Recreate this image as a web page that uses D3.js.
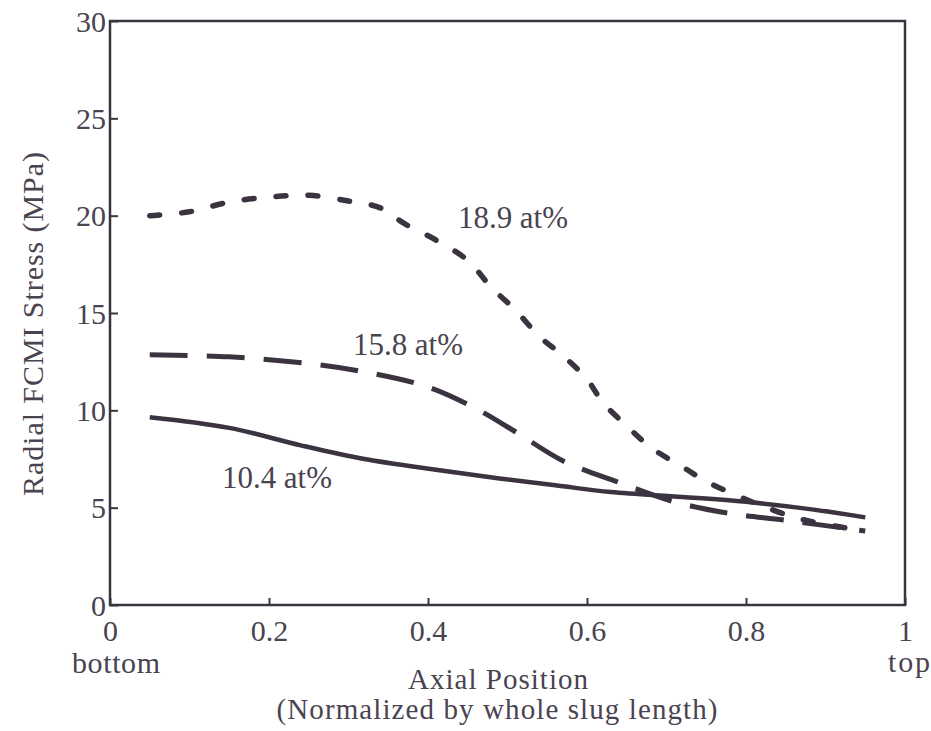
<!DOCTYPE html>
<html>
<head>
<meta charset="utf-8">
<script src="https://cdn.jsdelivr.net/npm/d3@7"></script>
<style>
  html, body { margin: 0; padding: 0; background: #fff; }
  svg text { font-family: "Liberation Serif", "DejaVu Serif", serif; fill: #4a4350; }
</style>
</head>
<body>
<svg id="chart" width="931" height="731"></svg>
<script>
// Radial FCMI stress along the slug for three Pu contents
const xTicks = [0, 0.2, 0.4, 0.6, 0.8, 1];
const xTickLabels = ["0", "0.2", "0.4", "0.6", "0.8", "1"];
const yTicks = [0, 5, 10, 15, 20, 25, 30];

const pos189 = [0.05, 0.10, 0.15, 0.20, 0.25, 0.30, 0.34, 0.37, 0.41, 0.45, 0.48, 0.51, 0.54, 0.57, 0.60, 0.62, 0.65, 0.68, 0.72, 0.75, 0.79, 0.82, 0.87, 0.95];
const stress189 = [20.0, 20.2, 20.7, 20.95, 21.05, 20.75, 20.4, 19.6, 18.75, 17.7, 16.3, 15.15, 13.8, 12.8, 11.6, 10.4, 9.2, 8.1, 7.1, 6.35, 5.6, 5.1, 4.4, 3.8];

const pos158 = [0.05, 0.15, 0.25, 0.33, 0.40, 0.46, 0.51, 0.57, 0.64, 0.71, 0.78, 0.85, 0.95];
const stress158 = [12.85, 12.75, 12.4, 11.9, 11.2, 10.1, 8.9, 7.4, 6.3, 5.3, 4.7, 4.35, 3.8];

const pos104 = [0.05, 0.15, 0.24, 0.32, 0.41, 0.49, 0.56, 0.63, 0.72, 0.80, 0.885, 0.95];
const stress104 = [9.65, 9.1, 8.2, 7.5, 6.95, 6.5, 6.15, 5.8, 5.55, 5.3, 4.9, 4.5];

const seriesLabels = ["18.9 at%", "15.8 at%", "10.4 at%"];

const svg = d3.select("#chart");
const plotLeft = 110, plotRight = 905, plotTop = 21, plotBottom = 605;
const ink = "#3b3440";

const x = d3.scaleLinear().domain([0, 1]).range([plotLeft, plotRight]);
const y = d3.scaleLinear().domain([0, 30]).range([plotBottom, plotTop]);

// frame
svg.append("rect")
  .attr("x", plotLeft).attr("y", plotTop)
  .attr("width", plotRight - plotLeft).attr("height", plotBottom - plotTop)
  .attr("fill", "none").attr("stroke", ink).attr("stroke-width", 2.5);

// bottom axis: inward ticks
const xAxis = d3.axisBottom(x).tickValues(xTicks).tickSize(-7)
  .tickFormat((d, i) => xTickLabels[i]).tickPadding(15);
const gx = svg.append("g").attr("transform", `translate(0,${plotBottom})`).call(xAxis);
gx.select(".domain").remove();
gx.selectAll(".tick line").attr("stroke", ink).attr("stroke-width", 2);
gx.selectAll(".tick text").style("font-size", "30px").attr("dy", "0.71em");

// left axis: inward ticks
const yAxis = d3.axisLeft(y).tickValues(yTicks).tickSize(-8).tickPadding(4);
const gy = svg.append("g").attr("transform", `translate(${plotLeft},0)`).call(yAxis);
gy.select(".domain").remove();
gy.selectAll(".tick line").attr("stroke", ink).attr("stroke-width", 2);
gy.selectAll(".tick text").style("font-size", "30px").attr("dy", "0.34em");

// axis titles
svg.append("text").attr("x", 116).attr("y", 673).attr("text-anchor", "middle")
  .style("font-size", "30px").attr("textLength", 88).attr("lengthAdjust", "spacing").text("bottom");
svg.append("text").attr("x", 909).attr("y", 672).attr("text-anchor", "middle")
  .style("font-size", "30px").attr("textLength", 42).attr("lengthAdjust", "spacing").text("top");
svg.append("text").attr("x", 498).attr("y", 689).attr("text-anchor", "middle")
  .style("font-size", "29px").attr("textLength", 180).attr("lengthAdjust", "spacing").text("Axial Position");
svg.append("text").attr("x", 497).attr("y", 719).attr("text-anchor", "middle")
  .style("font-size", "29px").attr("textLength", 441).attr("lengthAdjust", "spacing").text("(Normalized by whole slug length)");
svg.append("text")
  .attr("transform", "translate(43,324) rotate(-90)")
  .attr("text-anchor", "middle")
  .style("font-size", "30px").attr("textLength", 344).attr("lengthAdjust", "spacing")
  .text("Radial FCMI Stress (MPa)");

// curves
const line = d3.line().x(d => x(d[0])).y(d => y(d[1])).curve(d3.curveCatmullRom.alpha(0.5));
const curves = [
  { xs: pos189, ys: stress189, dash: "10,22", cap: "round", width: 5.5 },
  { xs: pos158, ys: stress158, dash: "38,19", cap: "butt", width: 5 },
  { xs: pos104, ys: stress104, dash: null, cap: "butt", width: 4.5 }
];
curves.forEach(c => {
  svg.append("path")
    .datum(c.xs.map((v, i) => [v, c.ys[i]]))
    .attr("d", line)
    .attr("fill", "none")
    .attr("stroke", ink)
    .attr("stroke-width", c.width)
    .attr("stroke-linecap", c.cap)
    .attr("stroke-dasharray", c.dash);
});

// series labels
const labelPos = [[458, 228], [353, 355], [222, 488]];
seriesLabels.forEach((t, i) => {
  svg.append("text").attr("x", labelPos[i][0]).attr("y", labelPos[i][1])
    .style("font-size", "31px").attr("textLength", 110).attr("lengthAdjust", "spacing").text(t);
});
</script>
</body>
</html>
